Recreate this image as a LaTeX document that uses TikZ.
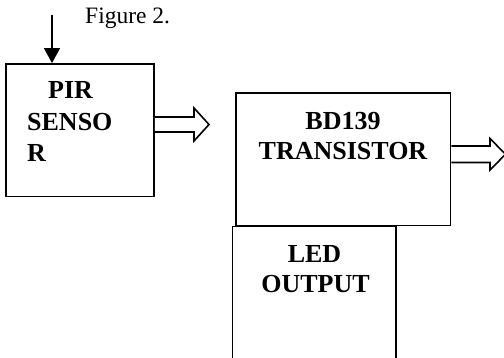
\documentclass[tikz,border=0pt]{standalone}
\usepackage{fontspec}
\setmainfont{Liberation Serif}
\usetikzlibrary{arrows.meta,calc}
\begin{document}
\begin{tikzpicture}[x=1pt,y=-1pt,
  box/.style={draw=black,line width=1.8pt,rectangle,inner sep=0pt,fill=none},
  lbl/.style={font=\fontsize{26}{31}\selectfont\bfseries,inner sep=0pt,anchor=base},
  lblw/.style={font=\fontsize{26}{31}\selectfont\bfseries,inner sep=0pt,anchor=base west},
  barrow/.style={draw=black,line width=1.6pt,fill=white,line join=miter}]
\useasboundingbox (0,0) rectangle (504,358);
\fill[white] (0,0) rectangle (504,358);
\clip (0,0) rectangle (504,358);
% boxes
\node[box,minimum width=148pt,minimum height=132.5pt] (pir) at (80,130.25) {};
\node[box,minimum width=214.5pt,minimum height=132.5pt] (bd) at (343.25,159.25) {};
\node[box,minimum width=163.5pt,minimum height=148.5pt] (led) at (314.25,300.75) {};
% texts
\node[font=\fontsize{23.5}{28}\selectfont,inner sep=0pt,anchor=base west] (fig) at (85,24) {Figure 2.};
\node[lblw] (pir1) at (48,99) {PIR};
\node[lblw] (pir2) at (27,130.5) {SENSO};
\node[lblw] (pir3) at (27,161.5) {R};
\node[lbl] (bd1) at (343,130) {BD139};
\node[lbl] (bd2) at (343,160) {TRANSISTOR};
\node[lbl] (led1) at (314.5,263) {LED};
\node[lbl] (led2) at (315.5,293) {OUTPUT};
% input arrow
\coordinate (in) at (52,15);
\draw[line width=1.6pt,-{Triangle[width=16pt,length=15pt]}] (in) -- (in |- pir.north);
% block arrows
\draw[barrow] (pir.east |- {(0,117)}) -- (194,117) -- (194,108) -- (209,124.5) -- (194,141) -- (194,132) -- (pir.east |- {(0,132)});
\draw[barrow] (bd.east |- {(0,146)}) -- (490,146) -- (490,138.5) -- (505.5,154.3) -- (490,170) -- (490,162.5) -- (bd.east |- {(0,162.5)});
\end{tikzpicture}
\end{document}
